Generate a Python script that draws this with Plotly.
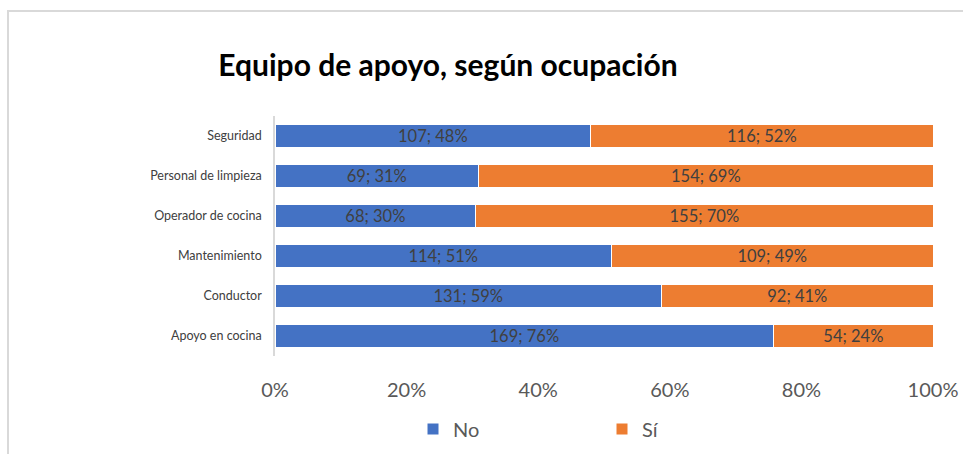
import plotly.graph_objects as go

categories = ["Seguridad", "Personal de limpieza", "Operador de cocina",
              "Mantenimiento", "Conductor", "Apoyo en cocina"]
no_values = [107, 69, 68, 114, 131, 169]
si_values = [116, 154, 155, 109, 92, 54]
series_names = ["No", "Sí"]
tick_vals = [0, 20, 40, 60, 80, 100]
tick_labels = ["0%", "20%", "40%", "60%", "80%", "100%"]

totals = [a + b for a, b in zip(no_values, si_values)]

def pct(v, t):
    return v / t * 100

def lab(v, t):
    return f"{v}; {int(v / t * 100 + 0.5)}%"

W, H = 963, 454
L, R, T, B = 275, 30, 116, 98
pw, ph = W - L - R, H - T - B

def px(x):
    return (x - L) / pw

def py(y):
    return (H - B - y) / ph

FONT = "Lato, Carlito, Calibri, sans-serif"
colors = ["#4472C4", "#ED7D31"]

fig = go.Figure()
for name, vals, col in zip(series_names, [no_values, si_values], colors):
    fig.add_trace(go.Bar(
        y=categories,
        x=[pct(v, t) for v, t in zip(vals, totals)],
        orientation="h",
        name=name,
        marker=dict(color=col, line=dict(color="white", width=1)),
        text=[lab(v, t) for v, t in zip(vals, totals)],
        textposition="inside",
        insidetextanchor="middle",
        textangle=0,
        constraintext="none",
        textfont=dict(color="#404040", size=16.5, family=FONT),
        hoverinfo="skip",
    ))

fig.update_layout(
    barmode="stack",
    bargap=0.42,
    width=W, height=H,
    margin=dict(l=L, r=R, t=T, b=B, pad=0, autoexpand=False),
    paper_bgcolor="white",
    plot_bgcolor="white",
    font=dict(family=FONT, color="#595959"),
    title=dict(text="<b>Equipo de apoyo, según ocupación</b>",
               x=px(448), xref="paper", xanchor="center",
               y=1 - 65 / H, yref="container", yanchor="middle",
               font=dict(size=30, color="black", family=FONT)),
    xaxis=dict(range=[0, 100], tickvals=tick_vals, ticktext=tick_labels,
               showgrid=False, zeroline=False, showline=False,
               tickfont=dict(size=20, color="#595959", family=FONT),
               ticklabelstandoff=20, fixedrange=True, automargin=False),
    yaxis=dict(autorange="reversed", showgrid=False, zeroline=False,
               showline=True, linecolor="#d9d9d9", linewidth=1.5,
               tickfont=dict(size=12.5, color="#404040", family=FONT),
               ticklabelstandoff=9, automargin=False, fixedrange=True),
    legend=dict(orientation="h", x=px(413), y=py(429),
                xanchor="left", yanchor="middle", traceorder="normal",
                entrywidth=144, entrywidthmode="pixels",
                itemwidth=30,
                font=dict(size=20, color="#595959", family=FONT)),
    shapes=[dict(type="rect", xref="paper", yref="paper",
                 x0=px(8), x1=px(1200), y0=py(800), y1=py(11),
                 line=dict(color="#d9d9d9", width=2), fillcolor="rgba(0,0,0,0)",
                 layer="below")],
)

fig.write_html("out.html",
               config={"displayModeBar": False},
               post_script="document.body.style.margin='0';document.body.style.overflow='hidden';")
